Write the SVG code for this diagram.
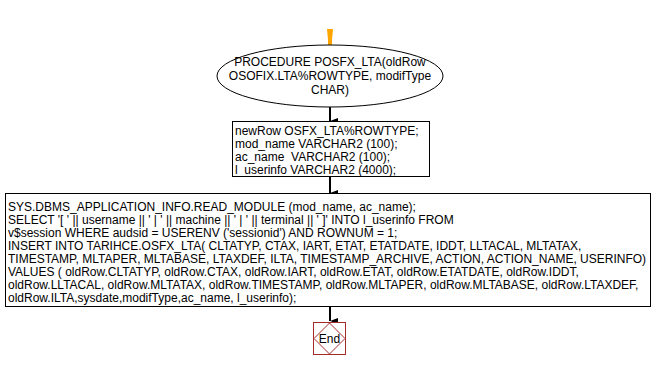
<svg xmlns="http://www.w3.org/2000/svg" width="657" height="369" viewBox="0 0 657 369">
  <style>
    text { font-family: "Liberation Sans", Arial, sans-serif; font-size: 12px; fill: #000; white-space: pre; }
    .shape { fill: #fff; stroke: #000; stroke-width: 1; }
    .edge { stroke: #000; stroke-width: 2; fill: none; }
    .end { fill: #fff; stroke: #a52a2a; stroke-width: 1; }
  </style>
  <defs>
    <marker id="arrow" viewBox="0 0 6 8" refX="3" refY="8" markerWidth="6" markerHeight="8" markerUnits="userSpaceOnUse" orient="auto-start-reverse">
      <path d="M0,0 L6,0 L3,8 Z" fill="#000"/>
    </marker>
  </defs>

  <!-- connectors -->
  <g id="connectors">
    <line x1="330" y1="29" x2="330" y2="45" stroke="#ffa500" stroke-width="4"/>
    <path d="M327,29 L333,29 L332,40 L330,45 L328,40 Z" fill="#ffa500"/>
    <line class="edge" x1="330" y1="107" x2="330" y2="121" marker-end="url(#arrow)"/>
    <line class="edge" x1="330" y1="177" x2="330" y2="193" marker-end="url(#arrow)"/>
    <line class="edge" x1="330" y1="307" x2="330" y2="321" marker-end="url(#arrow)"/>
  </g>

  <!-- procedure header -->
  <g id="start">
    <ellipse class="shape" cx="330" cy="76" rx="113" ry="31"/>
    <text x="330" y="66" text-anchor="middle">PROCEDURE POSFX_LTA(oldRow</text>
    <text x="330" y="80" text-anchor="middle">OSOFIX.LTA%ROWTYPE, modifType</text>
    <text x="330" y="94" text-anchor="middle">CHAR)</text>
  </g>

  <!-- declarations -->
  <g id="declare">
    <rect class="shape" x="232.5" y="121.5" width="197" height="55"/>
    <text x="235" y="135">newRow OSFX_LTA%ROWTYPE;</text>
    <text x="235" y="148">mod_name VARCHAR2 (100);</text>
    <text x="235" y="161">ac_name  VARCHAR2 (100);</text>
    <text x="235" y="174">l_userinfo VARCHAR2 (4000);</text>
  </g>

  <!-- body -->
  <g id="body">
    <rect class="shape" x="5.5" y="193.5" width="645" height="113"/>
    <text x="8" y="211">SYS.DBMS_APPLICATION_INFO.READ_MODULE (mod_name, ac_name);</text>
    <text x="8" y="224">SELECT '[ ' || username || ' | ' || machine || ' | ' || terminal || ' ]' INTO l_userinfo FROM</text>
    <text x="8" y="237">v$session WHERE audsid = USERENV ('sessionid') AND ROWNUM = 1;</text>
    <text x="8" y="250">INSERT INTO TARIHCE.OSFX_LTA( CLTATYP, CTAX, IART, ETAT, ETATDATE, IDDT, LLTACAL, MLTATAX,</text>
    <text x="8" y="263">TIMESTAMP, MLTAPER, MLTABASE, LTAXDEF, ILTA, TIMESTAMP_ARCHIVE, ACTION, ACTION_NAME, USERINFO)</text>
    <text x="8" y="276">VALUES ( oldRow.CLTATYP, oldRow.CTAX, oldRow.IART, oldRow.ETAT, oldRow.ETATDATE, oldRow.IDDT,</text>
    <text x="8" y="289">oldRow.LLTACAL, oldRow.MLTATAX, oldRow.TIMESTAMP, oldRow.MLTAPER, oldRow.MLTABASE, oldRow.LTAXDEF,</text>
    <text x="8" y="302">oldRow.ILTA,sysdate,modifType,ac_name, l_userinfo);</text>
  </g>

  <!-- end -->
  <g id="end">
    <rect class="end" x="313.5" y="322.5" width="32" height="32"/>
    <path class="end" d="M329.5,323 L345,338.5 L329.5,354 L314,338.5 Z"/>
    <text x="329.5" y="343" text-anchor="middle" style="font-size:12px">End</text>
  </g>
</svg>
